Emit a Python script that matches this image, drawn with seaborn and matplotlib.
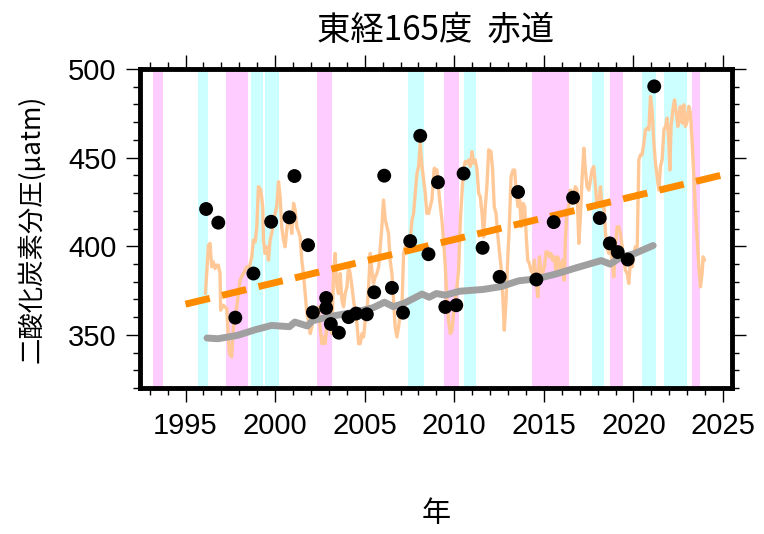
import numpy as np
import pandas as pd
import matplotlib
matplotlib.use('Agg')
import matplotlib.pyplot as plt
import seaborn as sns

# El Nino (pink) and La Nina (cyan) periods, decimal years
nino_start = [1993.17, 1997.26, 2002.35, 2009.44, 2014.34, 2018.68, 2023.26]
nino_end = [1993.76, 1998.50, 2003.17, 2010.27, 2016.41, 2019.43, 2023.74]
nina_start = [1995.70, 1998.66, 1999.44, 2007.43, 2010.52, 2017.67, 2020.50, 2021.70]
nina_end = [1996.26, 1999.31, 2000.24, 2008.32, 2011.23, 2018.34, 2021.25, 2023.00]

# monthly-ish surface pCO2 (light orange line)
pco2_year = [1996.11, 1996.28, 1996.37, 1996.46, 1996.55, 1996.65, 1996.74, 1996.83, 1996.93, 1996.96,
             1997.11, 1997.30, 1997.45, 1997.58, 1997.67, 1997.86, 1998.04, 1998.23, 1998.42, 1998.57,
             1998.70, 1998.79, 1998.89, 1998.98, 1999.07, 1999.20, 1999.31, 1999.35, 1999.44, 1999.53,
             1999.63, 1999.72, 1999.81, 1999.91, 2000.00, 2000.09, 2000.19, 2000.28, 2000.37, 2000.47,
             2000.56, 2000.65, 2000.75, 2000.84, 2000.93, 2001.03, 2001.12, 2001.21, 2001.40, 2001.49,
             2001.58, 2001.68, 2001.77, 2001.86, 2001.96, 2002.05, 2002.14, 2002.23, 2002.33, 2002.42,
             2002.51, 2002.61, 2002.70, 2002.79, 2002.89, 2002.98, 2003.07, 2003.17, 2003.26, 2003.35,
             2003.45, 2003.54, 2003.63, 2003.73, 2003.82, 2003.91, 2004.01, 2004.10, 2004.19, 2004.29,
             2004.38, 2004.48, 2004.57, 2004.66, 2004.75, 2004.85, 2004.94, 2005.03, 2005.12, 2005.22,
             2005.31, 2005.40, 2005.49, 2005.59, 2005.68, 2005.78, 2005.87, 2005.96, 2006.05, 2006.15,
             2006.24, 2006.33, 2006.42, 2006.52, 2006.61, 2006.70, 2006.80, 2006.89, 2006.98, 2007.08,
             2007.17, 2007.26, 2007.45, 2007.54, 2007.64, 2007.73, 2007.82, 2007.92, 2008.01, 2008.10,
             2008.20, 2008.29, 2008.38, 2008.47, 2008.57, 2008.66, 2008.75, 2008.88, 2009.03, 2009.18,
             2009.31, 2009.40, 2009.50, 2009.59, 2009.68, 2009.78, 2009.87, 2009.96, 2010.06, 2010.15,
             2010.24, 2010.34, 2010.43, 2010.52, 2010.61, 2010.71, 2010.80, 2010.89, 2010.99, 2011.08,
             2011.17, 2011.27, 2011.36, 2011.45, 2011.55, 2011.64, 2011.73, 2011.82, 2011.92, 2012.05,
             2012.14, 2012.23, 2012.33, 2012.42, 2012.51, 2012.61, 2012.70, 2012.79, 2012.89, 2012.98,
             2013.07, 2013.17, 2013.28, 2013.37, 2013.46, 2013.56, 2013.65, 2013.74, 2013.84, 2013.93,
             2014.02, 2014.10, 2014.19, 2014.28, 2014.38, 2014.47, 2014.56, 2014.66, 2014.75, 2014.84,
             2014.93, 2015.03, 2015.12, 2015.21, 2015.31, 2015.40, 2015.49, 2015.59, 2015.68, 2015.77,
             2015.87, 2015.96, 2016.05, 2016.14, 2016.20, 2016.29, 2016.39, 2016.48, 2016.57, 2016.67,
             2016.76, 2016.85, 2016.95, 2017.04, 2017.13, 2017.23, 2017.32, 2017.41, 2017.51, 2017.60,
             2017.69, 2017.78, 2017.88, 2017.97, 2018.06, 2018.16, 2018.25, 2018.34, 2018.44, 2018.53,
             2018.62, 2018.71, 2018.81, 2018.90, 2018.99, 2019.09, 2019.18, 2019.27, 2019.37, 2019.46,
             2019.55, 2019.65, 2019.74, 2019.83, 2019.93, 2020.02, 2020.11, 2020.21, 2020.30, 2020.39,
             2020.48, 2020.58, 2020.67, 2020.76, 2020.86, 2020.95, 2021.04, 2021.14, 2021.23, 2021.32,
             2021.42, 2021.51, 2021.60, 2021.70, 2021.79, 2021.88, 2021.97, 2022.03, 2022.10, 2022.20,
             2022.29, 2022.39, 2022.48, 2022.53, 2022.62, 2022.72, 2022.81, 2022.90, 2022.99, 2023.09,
             2023.18, 2023.28, 2023.37, 2023.46, 2023.56, 2023.65, 2023.74, 2023.83, 2023.89, 2023.96]
pco2_value = [373.3, 400.6, 401.6, 388.4, 391.2, 387.4, 389.3, 389.3, 384.6, 363.9,
              366.7, 364.8, 339.4, 337.5, 354.4, 365.8, 380.8, 384.6, 388.4, 388.4,
              394.0, 403.5, 402.5, 411.0, 433.6, 431.7, 422.3, 403.5, 395.9, 399.7,
              392.1, 403.5, 407.2, 412.9, 418.5, 422.3, 436.4, 428.0, 411.0, 403.5,
              399.7, 409.1, 416.7, 414.8, 407.2, 424.2, 420.4, 411.0, 405.3, 392.1,
              384.6, 373.3, 362.0, 358.2, 350.7, 354.4, 365.8, 358.2, 362.0, 365.8,
              354.4, 345.0, 348.8, 345.0, 354.4, 362.0, 354.4, 350.7, 384.6, 395.9,
              377.1, 373.3, 384.6, 369.5, 365.8, 373.3, 377.1, 388.4, 384.6, 377.1,
              369.5, 362.0, 356.3, 345.0, 345.0, 350.7, 348.8, 358.2, 362.0, 377.1,
              395.9, 386.5, 379.0, 382.7, 384.6, 388.4, 399.7, 411.0, 426.1, 414.8,
              411.0, 407.2, 392.1, 384.6, 369.5, 354.4, 348.8, 354.4, 362.0, 365.8,
              395.9, 399.7, 399.7, 403.5, 414.8, 418.5, 429.9, 441.2, 445.0, 458.1,
              445.0, 437.4, 429.9, 418.5, 418.5, 422.3, 426.1, 444.0, 443.0, 426.1,
              414.8, 403.5, 388.4, 369.5, 358.2, 350.7, 352.6, 362.0, 369.5, 377.1,
              386.5, 414.8, 429.9, 443.0, 447.8, 446.8, 448.7, 445.0, 453.4, 446.8,
              448.7, 443.0, 429.9, 428.0, 418.5, 405.3, 422.3, 433.6, 454.4, 453.4,
              443.0, 422.3, 418.5, 407.2, 397.8, 388.4, 373.3, 352.6, 369.5, 392.1,
              411.0, 439.3, 443.0, 443.0, 429.9, 422.3, 426.1, 411.0, 424.2, 422.3,
              405.3, 392.1, 390.3, 386.5, 384.6, 392.1, 382.7, 371.4, 394.0, 386.5,
              384.6, 388.4, 396.8, 396.8, 394.0, 395.9, 392.1, 394.0, 384.6, 394.0,
              390.3, 384.6, 392.1, 380.8, 403.5, 420.4, 422.3, 431.7, 424.2, 429.9,
              433.6, 431.7, 401.6, 416.7, 437.4, 455.3, 443.0, 433.6, 431.7, 437.4,
              443.0, 445.0, 433.6, 422.3, 424.2, 433.6, 422.3, 424.2, 407.2, 399.7,
              396.0, 399.7, 392.1, 382.7, 399.7, 411.0, 411.0, 407.2, 399.7, 392.1,
              386.5, 384.6, 379.0, 392.1, 388.4, 396.0, 399.7, 399.7, 448.7, 451.5,
              451.5, 458.1, 465.7, 466.6, 465.7, 484.5, 477.0, 458.1, 446.8, 439.3,
              431.7, 445.0, 448.7, 465.7, 467.6, 472.3, 460.0, 443.0, 467.6, 477.0,
              482.6, 475.1, 467.6, 473.2, 478.9, 469.4, 479.8, 467.6, 470.4, 478.9,
              475.1, 458.1, 439.3, 420.4, 403.5, 388.4, 377.1, 384.6, 394.0, 392.1]

# cruise observations (black dots)
obs_year = [1996.15, 1996.83, 1997.78, 1998.79, 1999.78, 2000.80, 2001.08, 2001.84, 2002.11, 2002.85,
            2002.85, 2003.11, 2003.56, 2004.10, 2004.52, 2005.12, 2005.53, 2006.09, 2006.52, 2007.14,
            2007.54, 2008.10, 2008.56, 2009.09, 2009.50, 2010.11, 2010.52, 2011.58, 2012.53, 2013.56,
            2014.58, 2015.55, 2016.63, 2018.12, 2018.68, 2019.12, 2019.68, 2021.16]
obs_value = [421.0, 413.3, 359.7, 384.6, 413.8, 416.3, 439.6, 400.6, 362.7, 370.8,
             365.2, 356.1, 351.2, 360.0, 362.0, 361.6, 374.0, 439.8, 376.5, 362.5,
             402.9, 462.3, 395.5, 436.1, 365.7, 366.7, 441.0, 399.1, 382.7, 430.6,
             381.2, 413.6, 427.4, 415.9, 401.6, 396.7, 392.5, 490.2]

# atmospheric pCO2 (gray line)
air_year = [1996.2, 1996.8, 1997.9, 1998.9, 1999.8, 2000.8, 2001.1, 2001.8, 2002.1, 2003.1,
            2004.0, 2004.9, 2005.5, 2006.1, 2006.6, 2007.2, 2008.2, 2008.6, 2009.0, 2009.5,
            2010.3, 2011.6, 2012.6, 2013.6, 2014.6, 2015.7, 2016.8, 2018.2, 2018.7, 2019.3,
            2020.0, 2021.1]
air_value = [348.2, 347.8, 349.7, 352.9, 355.3, 354.6, 357.2, 355.0, 358.0, 360.4,
             362.0, 363.9, 365.4, 368.4, 365.9, 367.8, 373.0, 371.2, 373.3, 372.4,
             374.6, 375.6, 377.2, 380.5, 381.6, 384.4, 387.8, 391.9, 389.9, 393.8,
             395.6, 400.4]

# linear trend (dashed orange)
trend_year = [1995.0, 2025.0]
trend_value = [367.3, 440.3]

sns.set_style('ticks')
plt.rcParams['font.family'] = ['Liberation Sans', 'Noto Sans CJK JP', 'DejaVu Sans']
for key in ['text.color', 'axes.labelcolor', 'xtick.color', 'ytick.color', 'axes.edgecolor']:
    plt.rcParams[key] = 'black'
cjk = ['Noto Sans CJK JP', 'DejaVu Sans']

fig = plt.figure(figsize=(7.64, 5.34), dpi=100)
ax = fig.add_axes([140 / 764, 1 - 388 / 534, 592 / 764, 319 / 534])

for s, e in zip(nino_start, nino_end):
    ax.axvspan(s, e, color='#FFCCFF', lw=0, zorder=0)
for s, e in zip(nina_start, nina_end):
    ax.axvspan(s, e, color='#CCFFFF', lw=0, zorder=0)

sns.lineplot(x=pco2_year, y=pco2_value, ax=ax, color='#FFC896', lw=2.4,
             estimator=None, sort=False, zorder=2)
sns.lineplot(x=trend_year, y=trend_value, ax=ax, color='#FF8C00', lw=5,
             dashes=False, zorder=3).lines[-1].set_dashes((3.6, 1.8))
sns.lineplot(x=air_year, y=air_value, ax=ax, color='#A0A0A0', lw=5,
             estimator=None, sort=False, zorder=4)
sns.scatterplot(x=obs_year, y=obs_value, ax=ax, color='black', s=100,
                edgecolor='none', zorder=5)

ax.set_xlim(1992.46, 2025.5)
ax.set_ylim(320, 500)
ax.set_xticks([1995, 2000, 2005, 2010, 2015, 2020, 2025])
ax.set_xticks(np.arange(1993, 2026, 1), minor=True)
ax.set_yticks([350, 400, 450, 500])
ax.set_yticks(np.arange(320, 501, 10), minor=True)

for sp in ax.spines.values():
    sp.set_linewidth(3.5)
    sp.set_visible(True)
    sp.set_color('black')
ax.tick_params(which='both', direction='out', top=True, right=True,
               width=1.0, labelsize=21, color='black', labelcolor='black')
ax.tick_params(which='major', length=10, pad=7)
ax.tick_params(which='minor', length=5)

ax.set_title('東経165度  赤道', fontsize=24, family=cjk, pad=21)
ax.set_xlabel('年', fontsize=21, family=cjk, labelpad=43)
ax.set_ylabel('二酸化炭素分圧(µatm)', fontsize=19, family=cjk, labelpad=16)

fig.savefig('out.png', dpi=100)
